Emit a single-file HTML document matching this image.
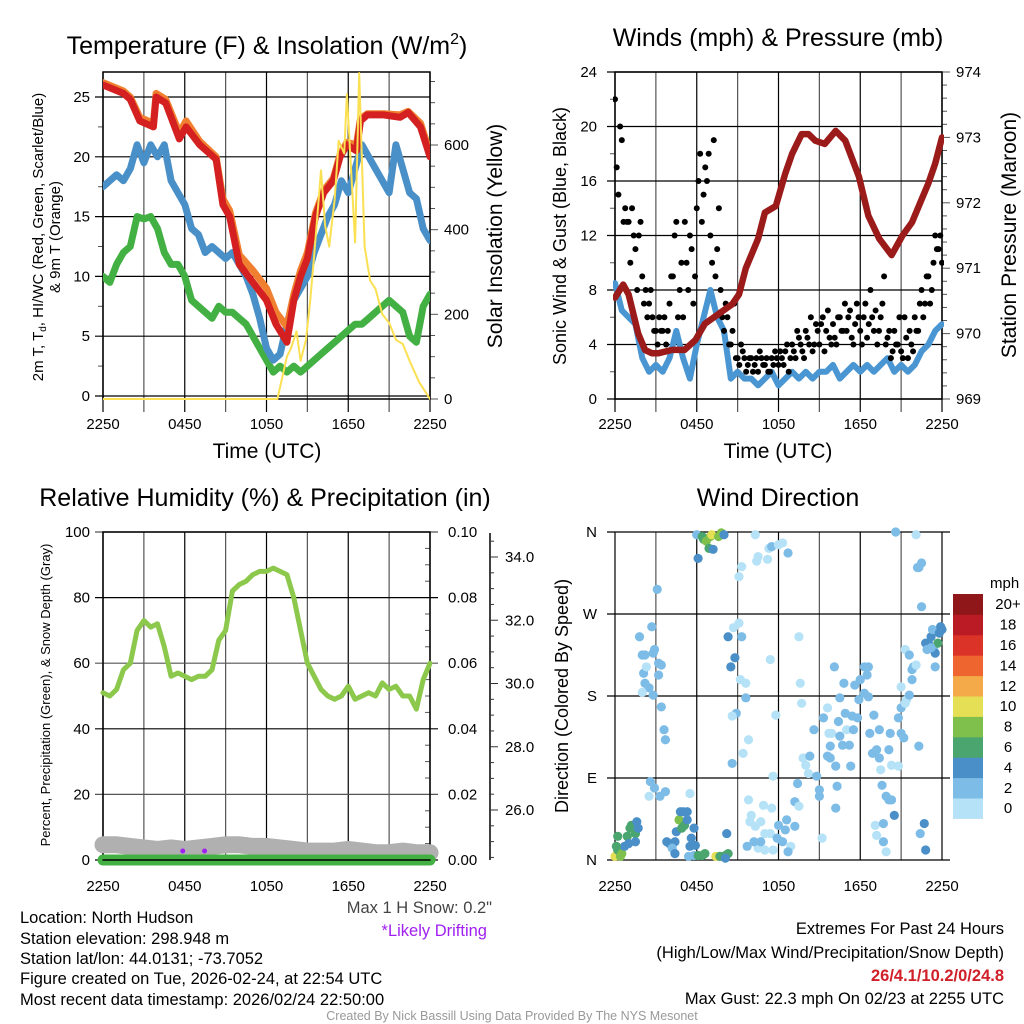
<!DOCTYPE html>
<html><head><meta charset="utf-8">
<style>
html,body{margin:0;padding:0;background:#fff;}
svg{display:block;font-family:"Liberation Sans",sans-serif;}
</style></head>
<body>
<svg id="fig" width="1024" height="1024" viewBox="0 0 1024 1024" xmlns="http://www.w3.org/2000/svg">
<g id="g1"></g>
<g id="g2"></g>
<g id="g3"></g>
<g id="g4"></g>
<text x="267" y="54" font-size="25" text-anchor="middle">Temperature (F) &amp; Insolation (W/m<tspan dy="-10" font-size="16">2</tspan><tspan dy="10">)</tspan></text>
<text x="778" y="46" font-size="25" text-anchor="middle">Winds (mph) &amp; Pressure (mb)</text>
<text x="265" y="506" font-size="25" text-anchor="middle">Relative Humidity (%) &amp; Precipitation (in)</text>
<text x="778" y="506" font-size="25" text-anchor="middle">Wind Direction</text>
<g font-size="16.5">
<text x="20" y="923">Location: North Hudson</text>
<text x="20" y="944">Station elevation: 298.948 m</text>
<text x="20" y="964">Station lat/lon: 44.0131; -73.7052</text>
<text x="20" y="984">Figure created on Tue, 2026-02-24, at 22:54 UTC</text>
<text x="20" y="1005">Most recent data timestamp: 2026/02/24 22:50:00</text>
</g>
<text x="492" y="913" font-size="16.5" text-anchor="end" fill="#444">Max 1 H Snow: 0.2"</text>
<text x="487" y="936" font-size="16.5" text-anchor="end" fill="#a020f0">*Likely Drifting</text>
<g font-size="16.5" text-anchor="end">
<text x="1004" y="934">Extremes For Past 24 Hours</text>
<text x="1004" y="958">(High/Low/Max Wind/Precipitation/Snow Depth)</text>
<text x="1004" y="981" fill="#d0202a" font-weight="bold">26/4.1/10.2/0/24.8</text>
<text x="1004" y="1004">Max Gust: 22.3 mph On 02/23 at 2255 UTC</text>
</g>
<text x="512" y="1020" font-size="12.5" text-anchor="middle" fill="#999">Created By Nick Bassill Using Data Provided By The NYS Mesonet</text>
</svg>
<script>
// ---------- data ----------
const xTickLabels = ["2250","0450","1050","1650","2250"];
const tempTicks = [0,5,10,15,20,25];
const solarTicks = [0,200,400,600];
const windTicks = [0,4,8,12,16,20,24];
const presTicks = [969,970,971,972,973,974];
const rhTicks = [0,20,40,60,80,100];
const precipTicks = ["0.00","0.02","0.04","0.06","0.08","0.10"];
const snowTicks = ["26.0","28.0","30.0","32.0","34.0"];
const dirLabels = ["N","E","S","W","N"];
const speedBins = ["0","2","4","6","8","10","12","14","16","18","20+"];
const speedColors = ["#b5e2f6","#7cbce6","#4a8fc7","#4aa56e","#7ec04b","#e5df56","#f4aa48","#ee6530","#dc3329","#bb1b25","#8f171a"];

const tempHours = [0,1.5,2,2.7,3.7,3.9,4.6,5.6,6.1,7.1,8.3,8.8,9.3,10,11,12,12.7,13.5,14,14.5,15,15.6,16.2,16.9,17.4,17.9,18.6,18.9,19.4,20.6,21.8,22.4,23.3,24];
const tempRed = [26,25.3,24.8,23,22.5,25,24.5,21.5,22.5,21,19.8,16,15,11,9.5,8,6,4.5,8,10,11.5,15,17,18,20,21,20.5,23,23.5,23.5,23.3,23.7,22.5,20];
const tempOrange = [26.2,25.5,25,23.3,22.8,25.3,24.8,22,23,21.3,20,16.5,15.5,11.8,10.5,9,7,5.8,8.5,10.5,12,15.3,17.2,18.2,20.2,21.2,21,23.2,23.6,23.6,23.5,23.8,22.8,20.3];
const halfHours = [0,0.5,1,1.5,2,2.5,3,3.5,4,4.5,5,5.5,6,6.5,7,7.5,8,8.5,9,9.5,10,10.5,11,11.5,12,12.5,13,13.5,14,14.5,15,15.5,16,16.5,17,17.5,18,18.5,19,19.5,20,20.5,21,21.5,22,22.5,23,23.5,24];
const tempBlue = [17.5,18,18.5,18,19,21,19.5,21,20,21,18,17,16,14,13.5,12,12.5,12,11.5,12,11,10,8.5,6.5,4,3,3.5,6,8,9,10,12,13.5,15,16,18,17,19,21,20,19,18,17,21,19,17,16.5,14,13];
const tempGreen = [10,9.5,11,12,12.5,15,14.8,15,14,12,11,11,10,8,7.5,7,6.5,7.5,7,7,6.5,6,5,4,3,2,2.5,2,2.5,2,2.5,3,3.5,4,4.5,5,5.5,6,6,6.5,7,7.5,8,7.5,7,5,4.5,7.5,8.5];
const solarHours = [0,12.8,13.5,13.8,14.2,14.5,14.9,15.2,15.5,16,16.3,16.6,17,17.3,17.7,17.9,18.3,18.5,18.8,19.2,19.6,20,20.5,21,21.5,22,22.5,23.2,24];
const solarVals = [0,0,100,120,160,90,140,230,340,540,410,360,470,610,580,720,490,370,770,360,280,260,200,180,140,130,90,40,0];

const presHours = [0,0.6,1,1.7,2.2,2.7,3.2,4.2,5.1,5.9,6.6,7.6,8.6,9.1,9.6,10,10.5,11,11.8,12.5,13,13.7,14.2,14.7,15.4,16.2,16.9,17.9,18.6,19.4,20.3,21.1,21.8,22.3,23,23.5,24];
const presVals = [970.55,970.75,970.6,970,969.75,969.7,969.7,969.75,969.75,969.9,970.15,970.3,970.45,970.6,971,971.2,971.45,971.85,971.95,972.45,972.75,973.05,973.05,972.95,972.9,973.1,972.95,972.4,971.8,971.45,971.2,971.5,971.7,971.95,972.3,972.6,973];
const windSpeed = [8.5,6.5,6,5.5,3,2,2.5,2,3,5,3,1.5,4,6,8,6,5,1.5,2,1.5,1.5,1,1.5,2,1,1.5,2,1.5,2,1.5,2,2,2.5,1.5,2,2.5,2,2.5,2,2.5,3,2,2.5,2,2.5,3.5,4,5,5.5];
const gustA = [22,15,19,14,13,14,11,12,9,8,7,6,5,6,5,4,7,9,13,8,6,10,12,7,14,18,15,16,12,19,11,8,5,6,4,7,3,4,3,2.5,3,2.5,2,3,2.5,2,3,3.5,2.5,3,3.5,2,4,3,4.5,3.5,5,4,3.5,5.5,4,6,5,4.5,5.5,4,6,5,5,6.5,4,7,5,6,4.5,8,5,4,6,9,4.5,3,5,4,3.5,6,3,4,6,5,8,7,9,8,12,11,10];
const gustB = [17,20,13,13,10,12,8,13,7,6,8,5,4,5,6,5,9,12,6,10,13,8,11,9,16,13,17,18,10,9,14,6,7,4,5,3,2.5,3.5,2,3,2,3,3.5,2.5,3,2,2.5,3,3.5,2.5,4,3,3.5,5,4,3,4.5,6,4,5,5.5,3.5,6.5,4,4.5,6,5,7,6,4.5,5.5,6,4,7,5.5,6,6.5,5,7,4,5,3.5,4,6,3,4.5,5,3.5,5,7,6,9,7,10,11,12];

const rhVals = [51,50,52,58,60,70,73,71,72,65,56,57,56,55,56,56,58,67,70,82,84,85,87,88,88,89,88,87,80,70,60,56,52,50,49,50,53,49,50,51,50,54,52,53,50,50,46,55,60];
const snowHours = [0,1,2,3,4,5,6,7,8,9,10,11,12,13,14,15,16,17,18,19,20,21,22,23,24];
const snowDepth = [24.9,24.9,24.85,24.8,24.75,24.8,24.75,24.8,24.85,24.9,24.9,24.85,24.85,24.8,24.75,24.7,24.7,24.7,24.75,24.7,24.65,24.65,24.7,24.65,24.65];
const driftHours = [6,7.6];

const dirHours = [0,0.2,0.2,0.5,0.7,0.9,1.1,1.2,1.5,1.6,1.7,1.5,1.0,0.4,0.1,
1.8,2.0,2.2,2.1,2.3,2.2,2.5,2.7,2.8,2.9,3.2,3.4,3.2,2.8,2.0,3.4,3.6,3.7,2.6,2.9,2.5,3.3,3.7,3.1,
3.8,4.0,4.4,4.2,4.4,4.5,4.7,4.8,5.0,5.3,4.9,5.1,5.3,5.8,5.6,5.9,5.5,5.8,5.4,5.5,6.1,6.4,6.6,7.4,7.7,8.1,8.3,8.2,8.1,
6.0,6.4,6.5,6.7,7.0,7.1,6.9,7.2,6.1,7.6,7.8,8.0,
8.3,8.5,8.8,8.7,9.1,9.3,9.2,9.6,9.6,8.9,8.6,8.6,9.8,9.4,9.1,9.3,10.3,10.5,10.4,11.2,11.3,11.5,12.0,12.3,12.7,11.4,11.8,11.6,
9.8,10.0,9.9,10.3,10.7,10.9,11.5,11.0,11.4,11.6,11.0,10.5,10.2,10.7,9.7,12.0,11.9,12.3,12.5,12.6,12.9,12.7,13.2,13.5,13.6,13.7,
13.2,13.5,13.4,13.8,14.0,14.3,14.2,14.6,14.8,15.0,15.0,15.2,15.3,15.6,15.7,15.9,15.8,15.6,15.8,16.2,16.3,16.2,16.1,16.5,16.8,16.4,16.5,16.7,16.9,17.0,17.2,17.3,17.4,17.5,17.6,17.8,18.0,17.9,18.3,18.3,18.5,18.6,18.6,18.7,19.0,18.9,19.2,19.4,19.4,19.5,19.6,19.9,20.1,20.3,20.5,20.1,20.2,20.3,20.8,19.1,19.7,19.2,19.7,19.9,20.6,
21.0,21.3,21.6,21.8,21.9,22.1,21.8,21.0,21.2,21.0,20.8,21.4,21.6,21.3,22.3,22.1,22.2,22.3,22.5,22.5,22.7,22.4,22.8,22.8,23.0,23.2,23.3,23.4,23.5,23.5,23.7,23.8,23.9,24.0,22.9,23.2];
const dirDeg = [4,11,26,7,15,26,35,38,29,42,35,20,18,4,15,
245,225,225,205,212,194,189,256,227,231,216,214,203,181,184,168,143,132,86,79,70,70,75,297,
20,18,20,13,7,31,44,53,53,53,35,38,44,35,24,16,15,5,4,73,5,5,7,4,4,5,7,29,2,
357,355,352,350,355,357,342,341,331,355,359,357,
245,212,222,255,260,245,198,194,178,161,158,106,132,117,311,322,357,333,328,330,342,344,346,348,337,220,159,92,
66,49,42,37,42,60,57,29,29,11,11,13,20,20,15,38,24,20,33,44,15,9,37,245,194,172,
64,59,84,112,104,114,95,143,92,77,70,24,156,167,139,139,125,114,112,103,81,57,212,178,194,152,136,126,161,143,126,103,158,143,192,156,198,176,183,212,203,212,179,139,159,117,121,143,112,99,82,70,66,66,49,121,139,104,103,38,40,27,20,9,360,
190,231,225,209,212,214,198,139,134,167,156,176,181,172,125,357,321,321,326,278,40,29,11,238,238,245,253,231,227,212,238,249,256,253,231,233];
const dirSpeed = [10.5,7,7,9,5,7,7,7,7,5,5,5,5,9,7,
3,3,3,3,1,3,3,3,3,3,3,3,3,3,1,3,3,3,3,3,1,3,3,3,
5,5,5,3,5,5,9,5,5,5,7,7,5,5,5,5,5,3,3,1,7,7,7,10.5,7,7,7,5,5,
3,7,7,9,9,10.5,7,5,5,9,9,5,
5,5,5,1,1,3,1,1,3,3,1,3,1,1,1,1,1,1,1,1,1,3,1,1,3,1,1,1,
1,1,1,1,1,1,1,1,1,1,1,1,3,3,3,3,3,3,3,3,1,3,3,1,1,1,
3,1,3,1,1,3,1,3,3,3,3,1,3,1,1,1,3,3,3,3,3,3,3,3,3,3,3,3,3,1,3,3,3,3,3,3,3,3,3,3,3,3,3,3,3,3,3,3,3,1,3,3,3,3,5,3,3,1,1,1,3,1,3,1,3,
1,1,3,3,3,1,3,3,3,3,3,1,3,1,3,1,3,3,3,3,5,3,5,5,5,5,3,3,5,3,7,5,5,5,3,3];

// ---------- helpers ----------
const NS = "http://www.w3.org/2000/svg";
function mk(parent, tag, attrs, text) {
  const e = document.createElementNS(NS, tag);
  for (const k in attrs) e.setAttribute(k, attrs[k]);
  if (text !== undefined) e.textContent = text;
  parent.appendChild(e);
  return e;
}
function lin(d0, d1, r0, r1) { return v => r0 + (v - d0) * (r1 - r0) / (d1 - d0); }
function pathD(xs, ys, fx, fy) { return xs.map((x, i) => (i ? "L" : "M") + fx(x).toFixed(1) + "," + fy(ys[i]).toFixed(1)).join(""); }

function timeGrid(g, X, top, bot, labelY, tickBelow) {
  for (let i = 0; i <= 8; i++) {
    const x = X(i * 3);
    const l = mk(g, "line", {x1: x, x2: x, y1: top, y2: bot + tickBelow, stroke: i % 2 ? "#555" : "#000", "stroke-width": 1.2});
    
    
  }
  xTickLabels.forEach((t, i) => {
    const tx = mk(g, "text", {x: X(i * 6), y: labelY, "font-size": 15, "text-anchor": "middle", class: "xl"}, t);
    
    
  });
}

// ---------- Panel 1: temperature ----------
(function () {
  const g = document.getElementById("g1");
  const L = 103, R = 430, T = 72, B = 399;
  const X = lin(0, 24, L, R);
  const Y = lin(0, 25, 396, 97);
  const YS = lin(0, 600, 399, 145);
  timeGrid(g, X, T, B, 429, 13);
  tempTicks.forEach(v => {
    const l = mk(g, "line", {x1: L - 8, x2: R, y1: Y(v), y2: Y(v), stroke: "#000", "stroke-width": 1.2});
    
    
    const t = mk(g, "text", {x: L - 13, y: Y(v) + 5, "font-size": 15, "text-anchor": "end"}, v);
    
    
  });
  for (let v = 2.5; v < 27; v += 5) mk(g, "line", {x1: L - 5, x2: L, y1: Y(v), y2: Y(v), stroke: "#555"});
  for (let v = 0; v <= 750; v += 50) {
    const major = v % 200 === 0 && v <= 600;
    mk(g, "line", {x1: R, x2: R + (major ? 8 : 5), y1: YS(v), y2: YS(v), stroke: "#555"});
  }
  solarTicks.forEach(v => {
    const t = mk(g, "text", {x: R + 14, y: YS(v) + 5, "font-size": 15}, v);
    
    
  });
  mk(g, "rect", {x: L, y: T, width: R - L, height: B - T, fill: "none", stroke: "#000", "stroke-width": 1.5});
  const clip = mk(g, "clipPath", {id: "c1"}); mk(clip, "rect", {x: L, y: T, width: R - L, height: B - T + 4});
  const s = mk(g, "g", {"clip-path": "url(#c1)", "stroke-linejoin": "round", "stroke-linecap": "round", fill: "none"});
  const gl = mk(s, "path", {d: pathD(halfHours, tempGreen, X, Y), stroke: "#43b043", "stroke-width": 7});
  
  
  const bl = mk(s, "path", {d: pathD(halfHours, tempBlue, X, Y), stroke: "#4a90c8", "stroke-width": 7});
  
  
  const ol = mk(s, "path", {d: pathD(tempHours, tempOrange, X, Y), stroke: "#f08030", "stroke-width": 7});
  
  
  const rl = mk(s, "path", {d: pathD(tempHours, tempRed, X, Y), stroke: "#d42020", "stroke-width": 7});
  
  
  const yl = mk(s, "path", {d: pathD(solarHours, solarVals, X, YS), stroke: "#fbe052", "stroke-width": 2});
  
  
  const xt = mk(g, "text", {x: 267, y: 458, "font-size": 21, "text-anchor": "middle"}, "Time (UTC)");
  
  
  const yt = mk(g, "text", {transform: "translate(43,237) rotate(-90)", "font-size": 15, "text-anchor": "middle"});
  
  
  mk(yt, "tspan", {}, "2m T, T");
  mk(yt, "tspan", {dy: 3, "font-size": 10}, "d");
  mk(yt, "tspan", {dy: -3}, ", HI/WC (Red, Green, Scarlet/Blue)");
  mk(g, "text", {transform: "translate(60,237) rotate(-90)", "font-size": 15, "text-anchor": "middle"}, "& 9m T (Orange)");
  const rt = mk(g, "text", {transform: "translate(502,236) rotate(-90)", "font-size": 21, "text-anchor": "middle"}, "Solar Insolation (Yellow)");
  
  
})();

// ---------- Panel 2: winds ----------
(function () {
  const g = document.getElementById("g2");
  const L = 615, R = 942, T = 72, B = 399;
  const X = lin(0, 24, L, R);
  const Y = lin(0, 24, B, T);
  const YP = lin(969, 974, B, T);
  timeGrid(g, X, T, B, 429, 13);
  windTicks.forEach(v => {
    mk(g, "line", {x1: L - 8, x2: R, y1: Y(v), y2: Y(v), stroke: "#000", "stroke-width": 1.2});
    const t = mk(g, "text", {x: L - 18, y: Y(v) + 5, "font-size": 15, "text-anchor": "end"}, v);
    
    
  });
  for (let v = 2; v < 24; v += 4) mk(g, "line", {x1: L - 5, x2: L, y1: Y(v), y2: Y(v), stroke: "#555"});
  for (let v = 969; v <= 974.001; v += 0.2) {
    const major = Math.abs(v - Math.round(v)) < 0.01;
    mk(g, "line", {x1: R, x2: R + (major ? 8 : 5), y1: YP(v), y2: YP(v), stroke: "#555"});
  }
  presTicks.forEach(v => {
    const t = mk(g, "text", {x: R + 14, y: YP(v) + 5, "font-size": 15}, v);
    
    
  });
  mk(g, "rect", {x: L, y: T, width: R - L, height: B - T, fill: "none", stroke: "#000", "stroke-width": 1.5});
  const clip = mk(g, "clipPath", {id: "c2"}); mk(clip, "rect", {x: L - 2, y: T, width: R - L + 4, height: B - T + 2});
  const s = mk(g, "g", {"clip-path": "url(#c2)", fill: "none", "stroke-linejoin": "round", "stroke-linecap": "round"});
  const wl = mk(s, "path", {d: pathD(halfHours, windSpeed, X, Y), stroke: "#4a96d2", "stroke-width": 6});
  
  
  const gg = mk(s, "g", {fill: "#000", stroke: "none"});
  gustA.forEach((v, i) => {
    const c = mk(gg, "circle", {cx: X(i * 0.25), cy: Y(v), r: 3});
    
    
  });
  gustB.forEach((v, i) => {
    const c = mk(gg, "circle", {cx: X(i * 0.25 + 0.125), cy: Y(v), r: 3});
    
    
  });
  const pl = mk(s, "path", {d: pathD(presHours, presVals, X, YP), stroke: "#9b1b1b", "stroke-width": 6.5});
  
  
  const xt = mk(g, "text", {x: 778, y: 458, "font-size": 21, "text-anchor": "middle"}, "Time (UTC)");
  
  
  const yt = mk(g, "text", {transform: "translate(566,236) rotate(-90)", "font-size": 18, "text-anchor": "middle"}, "Sonic Wind & Gust (Blue, Black)");
  
  
  const rt = mk(g, "text", {transform: "translate(1016,235) rotate(-90)", "font-size": 21, "text-anchor": "middle"}, "Station Pressure (Maroon)");
  
  
})();

// ---------- Panel 3: humidity ----------
(function () {
  const g = document.getElementById("g3");
  const L = 103, R = 430, T = 532, B = 860;
  const X = lin(0, 24, L, R);
  const Y = lin(0, 100, B, T);
  const YSn = lin(26, 34, 810, 557);
  timeGrid(g, X, T, B, 891, 0);
  rhTicks.forEach(v => {
    mk(g, "line", {x1: L - 8, x2: R + 8, y1: Y(v), y2: Y(v), stroke: v % 40 === 0 ? "#000" : "#555", "stroke-width": 1.2});
    const t = mk(g, "text", {x: L - 13, y: Y(v) + 5, "font-size": 15, "text-anchor": "end"}, v);
    
    
  });
  for (let v = 5; v < 100; v += 5) if (v % 20) mk(g, "line", {x1: R - 5, x2: R, y1: Y(v), y2: Y(v), stroke: "#555"});
  precipTicks.forEach((v, i) => {
    const t = mk(g, "text", {x: R + 18, y: Y(i * 20) + 5, "font-size": 15}, v);
    
    
  });
  mk(g, "line", {x1: 490, x2: 490, y1: 533, y2: 860, stroke: "#000", "stroke-width": 1.5});
  for (let v = 24.5; v <= 34.9; v += 0.5) {
    const major = Math.abs(v % 2) < 0.01;
    mk(g, "line", {x1: 490, x2: 490 + (major ? 8 : 4), y1: YSn(v), y2: YSn(v), stroke: "#333"});
  }
  snowTicks.forEach(v => {
    const t = mk(g, "text", {x: 505, y: YSn(parseFloat(v)) + 5, "font-size": 15}, v);
    
    
  });
  mk(g, "rect", {x: L, y: T, width: R - L, height: B - T, fill: "none", stroke: "#000", "stroke-width": 1.5});
  const s = mk(g, "g", {fill: "none", "stroke-linejoin": "round", "stroke-linecap": "round"});
  const sn = mk(s, "path", {d: pathD(snowHours, snowDepth, X, YSn), stroke: "#b0b0b0", "stroke-width": 17});
  
  
  const pr = mk(s, "path", {d: "M" + X(0) + "," + Y(0) + "L" + X(24) + "," + Y(0), stroke: "#44b044", "stroke-width": 11});
  
  
  mk(s, "line", {x1: L, x2: R, y1: B, y2: B, stroke: "#000", "stroke-width": 1.5});
  const rh = mk(s, "path", {d: pathD(halfHours, rhVals, X, Y), stroke: "#8cc84b", "stroke-width": 5});
  
  
  driftHours.forEach(h => {
    const c = mk(g, "circle", {cx: X(h) - 2, cy: 851, r: 2.5, fill: "#a020f0"});
    
    
  });
  const yt = mk(g, "text", {transform: "translate(50,695) rotate(-90)", "font-size": 13, "text-anchor": "middle"}, "Percent, Precipitation (Green), & Snow Depth (Gray)");
  
  
})();

// ---------- Panel 4: wind direction ----------
(function () {
  const g = document.getElementById("g4");
  const L = 615, R = 942, T = 532, B = 860;
  const X = lin(0, 24, L, R);
  const Y = lin(0, 360, B, T);
  timeGrid(g, X, T, B, 891, 0);
  dirLabels.forEach((d, i) => {
    mk(g, "line", {x1: L - 8, x2: R + 8, y1: Y(i * 90), y2: Y(i * 90), stroke: "#000", "stroke-width": 1.2});
    const t = mk(g, "text", {x: L - 18, y: Y(i * 90) + 5, "font-size": 15, "text-anchor": "end"}, d);
    
    
  });
  dirHours.forEach((h, i) => {
    const bin = Math.min(10, Math.floor(dirSpeed[i] / 2));
    const c = mk(g, "circle", {cx: X(h), cy: Y(dirDeg[i]), r: 4.6, fill: speedColors[bin]});
    
    
  });
  const yt = mk(g, "text", {transform: "translate(568,696) rotate(-90)", "font-size": 18, "text-anchor": "middle"}, "Direction (Colored By Speed)");
  
  
  const cb = mk(g, "g", {});
  
  
  const boxH = 20.4, top = 594;
  const mph = mk(cb, "text", {x: 990, y: 588, "font-size": 15}, "mph");
  
  
  speedBins.forEach((lab, i) => {
    const y = top + (10 - i) * boxH;
    const r = mk(cb, "rect", {x: 953, y: y, width: 30, height: boxH + 0.5, fill: speedColors[i]});
    
    
    const t = mk(cb, "text", {x: 1008, y: y + boxH / 2 + 5, "font-size": 15, "text-anchor": "middle"}, lab);
    
    
  });
})();
</script>
</body></html>
